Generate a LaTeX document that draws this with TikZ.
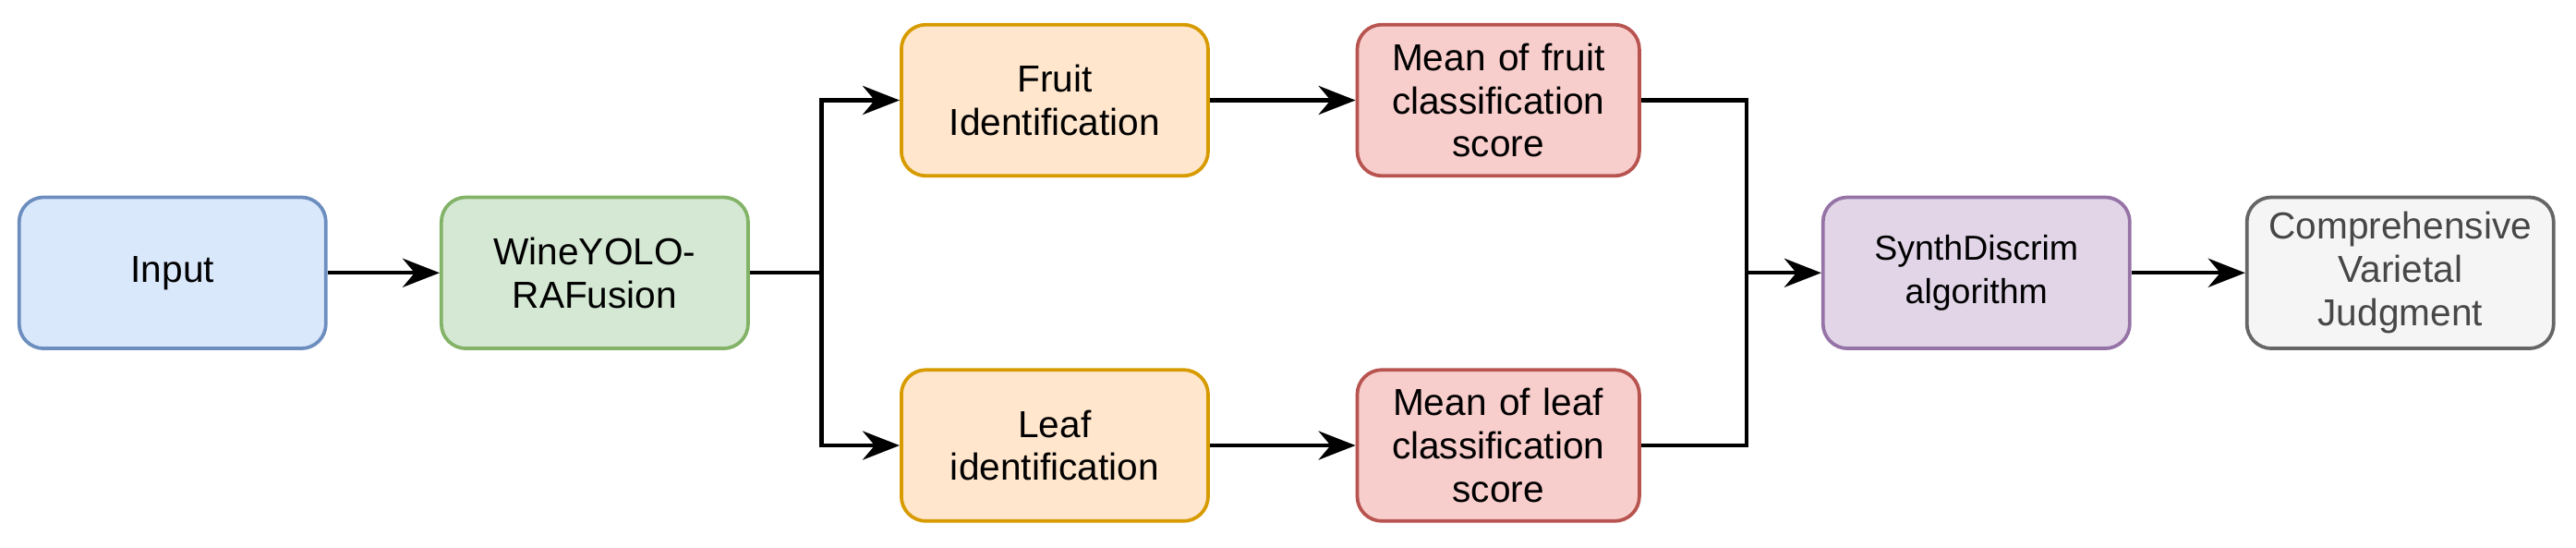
\documentclass[tikz,border=0pt]{standalone}
\usepackage{fontspec}
\setmainfont{Liberation Sans}
\usetikzlibrary{arrows.meta,positioning}
\definecolor{inblue}{HTML}{DAE8FC}\definecolor{inblueD}{HTML}{6C8EBF}
\definecolor{ingreen}{HTML}{D5E8D4}\definecolor{ingreenD}{HTML}{82B366}
\definecolor{inorange}{HTML}{FFE6CC}\definecolor{inorangeD}{HTML}{D79B00}
\definecolor{inred}{HTML}{F8CECC}\definecolor{inredD}{HTML}{B85450}
\definecolor{inpurple}{HTML}{E1D5E7}\definecolor{inpurpleD}{HTML}{9673A6}
\definecolor{ingray}{HTML}{F5F5F5}\definecolor{ingrayD}{HTML}{666666}
\begin{document}
\begin{tikzpicture}[font=\fontsize{13}{15}\selectfont,
  box/.style={draw, rounded corners=3mm, line width=1.2pt, minimum width=3.72cm, minimum height=1.84cm, align=center, text width=3.5cm},
  arr/.style={-{Stealth[length=4.5mm,width=3.5mm]}, line width=1.4pt},
  lin/.style={line width=1.4pt}
]
\useasboundingbox (0,0) rectangle (31.36,6.66);

\node[box, fill=inblue, draw=inblueD] (input) at (2.1,3.34) {Input};
\node[box, fill=ingreen, draw=ingreenD] (yolo) at (7.24,3.34) {WineYOLO-\\RAFusion};
\node[box, fill=inorange, draw=inorangeD] (fruit) at (12.84,5.44) {Fruit\\Identification};
\node[box, fill=inorange, draw=inorangeD] (leaf) at (12.84,1.24) {Leaf\\identification};
\node[box, fill=inred, draw=inredD, minimum width=3.36cm, text width=3.2cm] (mfruit) at (18.24,5.44) {Mean of fruit\\classification\\score};
\node[box, fill=inred, draw=inredD, minimum width=3.36cm, text width=3.2cm] (mleaf) at (18.24,1.24) {Mean of leaf\\classification\\score};
\node[box, fill=inpurple, draw=inpurpleD, font=\fontsize{12}{15}\selectfont] (synth) at (24.06,3.34) {SynthDiscrim\\algorithm};
\node[box, fill=ingray, draw=ingrayD, text=ingrayD!70!black] (comp) at (29.22,3.34) {Comprehensive\\Varietal\\Judgment};

\coordinate (split) at (10.0,3.34);
\coordinate (merge) at (21.26,3.34);

% main flow
\draw[arr] (input) -- (yolo);
\draw[lin] (yolo) -- (split);
\draw[arr] (split) |- (fruit);
\draw[arr] (split) |- (leaf);
\draw[arr] (fruit) -- (mfruit);
\draw[arr] (leaf) -- (mleaf);
\draw[lin] (mfruit) -| (merge);
\draw[lin] (mleaf) -| (merge);
\draw[arr] (merge) -- (synth);
\draw[arr] (synth) -- (comp);
\end{tikzpicture}
\end{document}
